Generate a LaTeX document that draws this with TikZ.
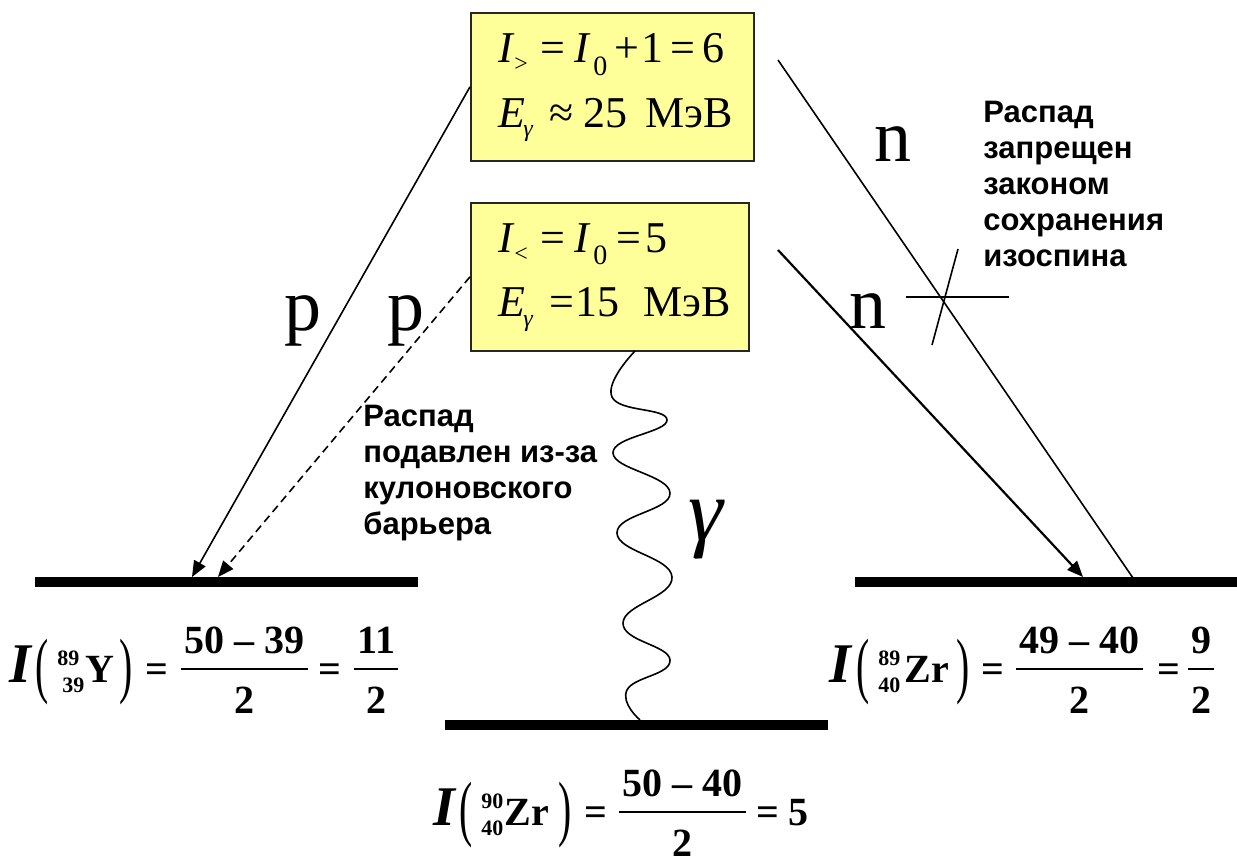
\documentclass[tikz,border=0pt]{standalone}
\usepackage{fontspec}
\setmainfont{Liberation Serif}
\newfontfamily\labelfont{Liberation Sans}
\usetikzlibrary{arrows.meta}
\definecolor{boxyellow}{RGB}{255,255,153}
\newcommand\putat[2]{\rlap{\hspace{#1pt}#2}}
\newcommand\putc[2]{\rlap{\hspace{#1pt}\makebox[0pt][c]{#2}}}
\newcommand\lsub[2]{\raisebox{#1pt}{\fontsize{12}{12}\selectfont #2}}
\newcommand\zsub[1]{\raisebox{-6pt}{\fontsize{14}{14}\selectfont #1}}
\newcommand\gsub{\raisebox{-5pt}{\fontsize{12}{12}\selectfont\itshape γ}}
\newcommand\bigpar[1]{\raisebox{-3.5pt}{\scalebox{0.9}[1.65]{\fontsize{22}{22}\selectfont\mdseries\upshape #1}}}
\newcommand\iso[1]{\raisebox{8.5pt}{\fontsize{11}{11}\selectfont #1}}
\newcommand\isob[1]{\raisebox{-5pt}{\fontsize{11}{11}\selectfont #1}}
\newcommand\bigI{{\fontsize{28}{28}\selectfont\itshape I}}
\newcommand\num[1]{\raisebox{14.5pt}{#1}}
\newcommand\den[1]{\raisebox{-15.5pt}{#1}}
\newcommand\fbar[1]{\raisebox{6pt}{\rule{#1pt}{1pt}}}
\tikzset{
  levelline/.style={line width=5pt},
  boxst/.style={draw=black!85, line width=0.8pt, fill=boxyellow, inner sep=0pt, anchor=north west},
  trans/.style={line width=0.8pt},
  arr/.style={-{Triangle[length=8pt,width=6.5pt]}},
  eq/.style={inner sep=0pt, anchor=base west, font=\fontsize{22}{26}\selectfont},
  formula/.style={inner sep=0pt, anchor=base west, font=\fontsize{20}{24}\selectfont\bfseries},
  big/.style={inner sep=0pt, anchor=base west, font=\fontsize{37}{40}\selectfont},
  remark/.style={inner sep=0pt, anchor=north west, align=left, font=\labelfont\bfseries\fontsize{15.5}{18}\selectfont},
}
\begin{document}
\begin{tikzpicture}[x=0.5pt,y=-0.5pt]
\useasboundingbox (0,0) rectangle (1237,856);
% boxes
\node[boxst, minimum width=141.5pt, minimum height=74pt] (hi) at (470,12) {};
\node[boxst, minimum width=139pt, minimum height=74pt] (lo) at (470,202) {};
\node[eq] (hi1) at (497,63) {\putat{0}{\itshape I}\putat{8}{\lsub{-4.5}{>}}\putat{21}{=}\putat{38}{\itshape I}\putat{47.5}{\zsub{0}}\putat{58}{+}\putat{71.5}{1}\putat{86}{=}\putat{102}{6}};
\node[eq] (hi2) at (497,127) {\putat{0}{\itshape E}\putat{12.5}{\gsub}\putat{25.5}{≈}\putat{42.5}{25}\putat{73.5}{МэВ}};
\node[eq] (lo1) at (497,252) {\putat{0}{\itshape I}\putat{8}{\lsub{-4.5}{<}}\putat{21}{=}\putat{38}{\itshape I}\putat{47.5}{\zsub{0}}\putat{59}{=}\putat{73.5}{5}};
\node[eq] (lo2) at (497,316) {\putat{0}{\itshape E}\putat{12.5}{\gsub}\putat{25.5}{=}\putat{38.5}{15}\putat{72.5}{МэВ}};
% levels
\coordinate (yl1) at (35,582); \coordinate (yl2) at (418,582);
\coordinate (zl1) at (855,582); \coordinate (zl2) at (1237,582);
\coordinate (gl1) at (445,725); \coordinate (gl2) at (828,725);
\draw[levelline] (yl1) -- (yl2);
\draw[levelline] (zl1) -- (zl2);
\draw[levelline] (gl1) -- (gl2);
% transitions
\coordinate (pend) at (192,577);
\coordinate (dend) at (218,577);
\coordinate (nstart) at (778,60);
\coordinate (nend) at (1133,578);
\coordinate (n2start) at (778,250);
\coordinate (n2end) at (1083,577);
\draw[trans, arr] (hi.west) -- (pend);
\draw[trans, arr, dash pattern=on 4pt off 2.5pt] (lo.west) -- (dend);
\draw[trans] (nstart) -- (nend);
\draw[line width=1.1pt, arr] (n2start) -- (n2end);
% cross
\coordinate (c1) at (906,297); \coordinate (c2) at (1009,297);
\coordinate (c3) at (958,249); \coordinate (c4) at (932,345);
\draw[trans] (c1) -- (c2);
\draw[trans] (c3) -- (c4);
% gamma wave
\draw[line width=0.8pt] plot[smooth, tension=0.8] coordinates {(635,351) (612,397) (667,420) (613,453) (670,493) (617,533) (672,577) (623,623) (670,660) (627,690) (640,720)};
% labels
\node[big] (pa) at (284,330) {p};
\node[big] (pb) at (387,330) {p};
\node[big] (na) at (874,162) {n};
\node[big] (nb) at (849,328) {n};
\node[inner sep=0pt, anchor=base west, font=\fontsize{44}{46}\selectfont\itshape] (gam) at (688,540) {γ};
\node[remark] (r1) at (363,405) {Распад\\подавлен из-за\\кулоновского\\барьера};
\node[remark] (r2) at (983,101) {Распад\\запрещен\\законом\\сохранения\\изоспина};
% formulas
\node[formula] (fy) at (0,682) {\putat{4}{\bigI}\putat{17}{\bigpar{(}}\putat{39}{\llap{\iso{89}}}\putat{41.5}{\llap{\isob{39}}}\putat{42}{Y}\putat{59}{\bigpar{)}}\putc{77.5}{=}\putc{121.5}{\num{50 – 39}}\putat{90}{\fbar{63.5}}\putc{121.5}{\den{2}}\putc{164}{=}\putc{187.5}{\num{11}}\putat{176.5}{\fbar{22}}\putc{187.5}{\den{2}}};
\node[formula] (fz) at (0,682) {\putat{414}{\bigI}\putat{427.5}{\bigpar{(}}\putat{438.5}{\iso{89}}\putat{438.5}{\isob{40}}\putat{451.5}{Zr}\putat{477.5}{\bigpar{)}}\putc{495.5}{=}\putc{539}{\num{49 – 40}}\putat{507.5}{\fbar{63.5}}\putc{539}{\den{2}}\putc{583.5}{=}\putc{600}{\num{9}}\putat{593.5}{\fbar{13}}\putc{600}{\den{2}}};
\node[formula] (fg) at (0,825) {\putat{216}{\bigI}\putat{229}{\bigpar{(}}\putat{240}{\iso{90}}\putat{240}{\isob{40}}\putat{251.5}{Zr}\putat{278.5}{\bigpar{)}}\putc{297}{=}\putc{340.5}{\num{50 – 40}}\putat{309}{\fbar{63.5}}\putc{340.5}{\den{2}}\putc{383}{=}\putc{398.5}{5}};
\end{tikzpicture}
\end{document}
